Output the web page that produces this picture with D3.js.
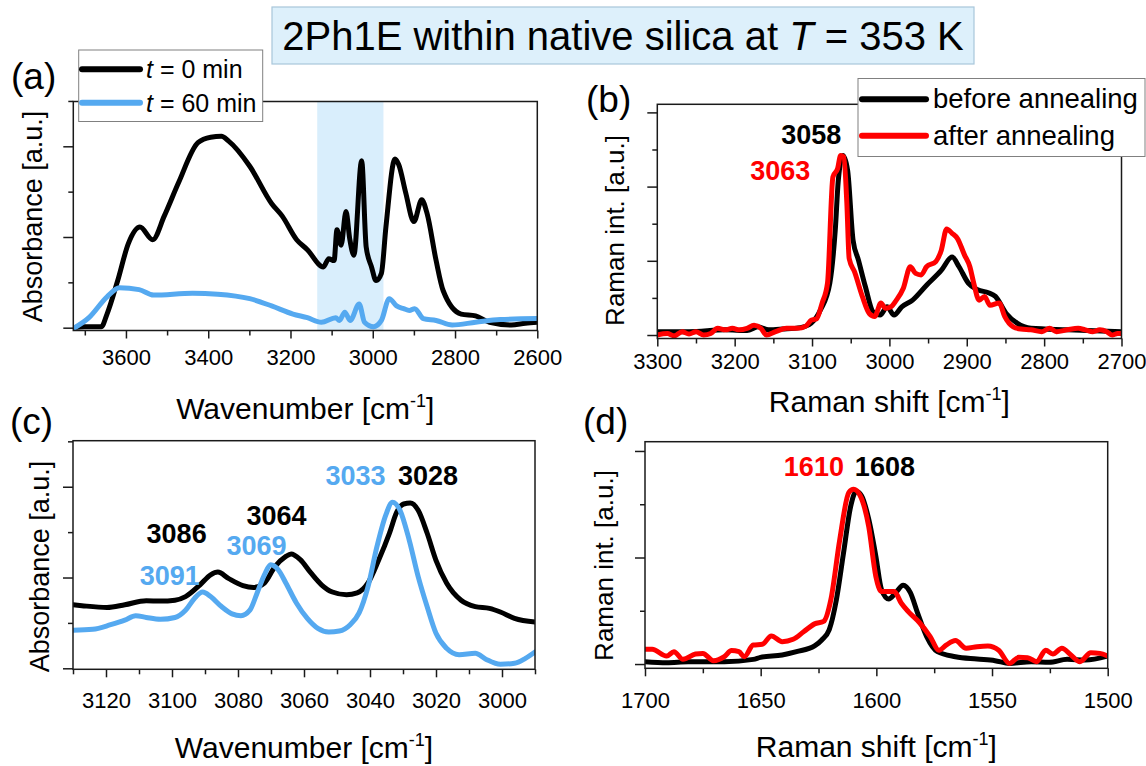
<!DOCTYPE html>
<html lang="en">
<head>
<meta charset="UTF-8">
<title>2Ph1E within native silica</title>
<script src="https://d3js.org/d3.v7.min.js"></script>
<style>
    body { margin: 0; background: #fff; }
    svg text { font-family: "Liberation Sans", Arial, sans-serif; fill: #000; }
    .frame { fill: none; stroke: #1a1a1a; stroke-width: 1.5px; }
    .axis path { display: none; }
    .axis line { stroke: #1a1a1a; stroke-width: 1.5px; }
    .axis text { font-size: 22px; font-family: "Liberation Sans", Arial, sans-serif; }
    .curve { fill: none; stroke-width: 5px; stroke-linejoin: round; stroke-linecap: round; }
    .peak { font-size: 27px; font-weight: bold; }
    .legend-box { fill: #fff; stroke: #808080; stroke-width: 1px; }
</style>
</head>
<body>
<svg width="1146" height="766"></svg>
<script>
// (a) FTIR, t = 0 min / t = 60 min
var aT0X = [3728, 3700, 3660, 3646, 3620, 3594, 3566, 3535, 3507, 3472, 3425, 3394, 3368, 3351, 3299, 3246, 3220, 3185, 3159, 3120, 3107, 3094, 3087, 3077, 3065, 3056, 3046, 3027, 3016, 3003, 2992, 2979, 2968, 2946, 2937, 2920, 2900, 2881, 2868, 2846, 2829, 2785, 2750, 2716, 2663, 2629, 2600];
var aT0Y = [0.0, 0.01, 0.01, 0.15, 0.52, 0.93, 1.11, 0.97, 1.23, 1.6, 2.04, 2.1, 2.11, 2.06, 1.78, 1.37, 1.23, 0.97, 0.86, 0.67, 0.76, 0.74, 1.08, 0.91, 1.28, 0.98, 0.8, 1.84, 0.89, 0.67, 0.52, 0.6, 1.11, 1.86, 1.8, 1.49, 1.17, 1.41, 1.26, 0.74, 0.41, 0.15, 0.13, 0.06, 0.03, 0.05, 0.06];
var aT60X = [3728, 3690, 3646, 3616, 3568, 3533, 3438, 3377, 3299, 3246, 3194, 3159, 3125, 3090, 3081, 3068, 3055, 3033, 3020, 2998, 2979, 2960, 2942, 2925, 2911, 2898, 2877, 2846, 2807, 2750, 2690, 2600];
var aT60Y = [-0.01, 0.11, 0.34, 0.44, 0.42, 0.36, 0.38, 0.37, 0.32, 0.24, 0.15, 0.11, 0.06, 0.11, 0.08, 0.17, 0.08, 0.26, 0.06, 0.01, 0.08, 0.32, 0.24, 0.21, 0.19, 0.21, 0.1, 0.08, 0.03, 0.06, 0.09, 0.1];
var aShade = [3135, 2974];

// (b) Raman, before / after annealing
var bBeforeX = [3300, 3259, 3212, 3184, 3170, 3156, 3138, 3115, 3101, 3089, 3077, 3070, 3066, 3060, 3054, 3047, 3040, 3031, 3021, 3012, 3003, 2994, 2984, 2970, 2952, 2933, 2919, 2910, 2898, 2886, 2872, 2863, 2849, 2835, 2817, 2770, 2700];
var bBeforeY = [0.045, 0.045, 0.07, 0.06, 0.11, 0.07, 0.08, 0.1, 0.16, 0.34, 0.7, 1.41, 2.09, 2.42, 2.22, 1.28, 1.01, 0.65, 0.31, 0.27, 0.38, 0.27, 0.38, 0.47, 0.67, 0.87, 1.05, 0.92, 0.7, 0.61, 0.57, 0.52, 0.29, 0.16, 0.09, 0.07, 0.045];
var bAfterX = [3300, 3287, 3278, 3268, 3259, 3250, 3240, 3231, 3222, 3212, 3203, 3194, 3184, 3175, 3166, 3159, 3147, 3133, 3119, 3108, 3101, 3094, 3087, 3080, 3073, 3067, 3063, 3059, 3055, 3052, 3045, 3035, 3026, 3019, 3011, 3005, 2998, 2991, 2982, 2973, 2966, 2959, 2952, 2940, 2933, 2926, 2919, 2912, 2903, 2896, 2891, 2884, 2877, 2870, 2858, 2851, 2840, 2830, 2817, 2803, 2793, 2784, 2770, 2756, 2747, 2737, 2728, 2719, 2712, 2705, 2700];
var bAfterY = [0, 0.02, -0.01, 0.045, 0.013, 0.045, 0, 0.02, 0.09, 0.07, 0.09, 0.07, 0.09, 0.13, 0.09, 0, 0.045, 0.09, 0.09, 0.12, 0.2, 0.22, 0.43, 0.7, 2.13, 2.24, 2.42, 2.4, 1.78, 1.03, 0.85, 0.52, 0.29, 0.25, 0.43, 0.36, 0.38, 0.47, 0.63, 0.92, 0.83, 0.81, 0.92, 0.99, 1.14, 1.43, 1.37, 1.3, 1.08, 0.92, 0.7, 0.47, 0.52, 0.4, 0.43, 0.25, 0.11, 0.08, 0.07, 0.045, 0.09, 0.045, 0.07, 0.09, 0.07, 0.045, 0.07, 0.045, 0, 0.02, 0.02];

// (c) FTIR zoom 3130-2990
var cT0X = [3130, 3127.3, 3119.7, 3114.3, 3107.8, 3103.5, 3099.1, 3095.9, 3091.5, 3088.3, 3086.1, 3082.9, 3078.5, 3075.3, 3072.0, 3068.8, 3065.6, 3063.9, 3061.2, 3057.9, 3054.7, 3051.4, 3047.1, 3043.9, 3040.6, 3037.4, 3034.1, 3031.9, 3029.8, 3027.8, 3025.4, 3022.7, 3020.0, 3016.8, 3012.4, 3008.1, 3003.8, 3000.5, 2996.2, 2990];
var cT0Y = [0.70, 0.69, 0.67, 0.70, 0.745, 0.74, 0.75, 0.79, 0.92, 1.03, 1.06, 0.99, 0.91, 0.89, 0.94, 1.12, 1.23, 1.26, 1.2, 1.05, 0.92, 0.84, 0.81, 0.83, 0.94, 1.19, 1.49, 1.72, 1.81, 1.82, 1.74, 1.49, 1.19, 0.94, 0.75, 0.68, 0.66, 0.62, 0.55, 0.51];
var cT60X = [3130, 3124.0, 3118.6, 3114.3, 3111.0, 3107.8, 3103.5, 3099.1, 3095.9, 3093.2, 3090.7, 3088.3, 3085.0, 3081.8, 3079.1, 3076.4, 3074.2, 3072.0, 3070.1, 3067.7, 3065.5, 3062.3, 3059.0, 3055.8, 3052.5, 3049.3, 3046.0, 3043.3, 3040.6, 3037.9, 3035.2, 3033.2, 3030.9, 3028.1, 3025.4, 3022.7, 3020.0, 3016.8, 3013.0, 3008.1, 3004.9, 3000.5, 2996.2, 2992.9, 2990];
var cT60Y = [0.42, 0.43, 0.48, 0.53, 0.58, 0.56, 0.54, 0.56, 0.64, 0.77, 0.84, 0.79, 0.68, 0.60, 0.58, 0.64, 0.83, 1.03, 1.14, 1.08, 0.94, 0.72, 0.55, 0.44, 0.40, 0.41, 0.48, 0.61, 0.90, 1.34, 1.69, 1.83, 1.74, 1.41, 1.01, 0.68, 0.385, 0.22, 0.15, 0.165, 0.10, 0.044, 0.055, 0.11, 0.18];

// (d) Raman 1700-1500
var dBeforeX = [1700, 1690.6, 1681.3, 1665.7, 1653.2, 1650.1, 1640.7, 1634.5, 1626.7, 1623.6, 1620.4, 1617.3, 1614.2, 1611.1, 1608.7, 1606.4, 1603.3, 1600.2, 1597.8, 1594.7, 1591.6, 1588.4, 1585.3, 1582.2, 1578.3, 1573.6, 1565.8, 1556.5, 1548.7, 1542.4, 1533.1, 1525.3, 1517.5, 1509.7, 1500];
var dBeforeY = [0.022, 0.013, 0.022, 0.022, 0.044, 0.063, 0.085, 0.116, 0.17, 0.226, 0.32, 0.60, 1.04, 1.48, 1.62, 1.58, 1.36, 1.01, 0.70, 0.61, 0.67, 0.74, 0.67, 0.48, 0.26, 0.116, 0.069, 0.047, 0.031, 0.006, 0.022, 0.016, 0.044, 0.038, 0.075];
var dAfterX = [1700, 1696.9, 1690.6, 1687.5, 1683.6, 1678.2, 1675.0, 1670.4, 1665.7, 1662.6, 1659.4, 1657.1, 1653.2, 1649.3, 1645.4, 1640.7, 1636.0, 1631.3, 1626.7, 1622.8, 1619.7, 1615.8, 1611.9, 1609.8, 1607.2, 1603.3, 1600.2, 1597.8, 1592.3, 1589.2, 1586.1, 1581.4, 1576.8, 1572.9, 1569.7, 1565.8, 1561.2, 1556.5, 1551.8, 1547.1, 1542.4, 1538.5, 1534.6, 1530.7, 1526.8, 1523.7, 1519.8, 1515.9, 1512.0, 1507.3, 1503.4, 1500];
var dAfterY = [0.138, 0.138, 0.075, 0.116, 0.044, 0.094, 0.10, 0.031, 0.069, 0.126, 0.116, 0.069, 0.179, 0.185, 0.264, 0.21, 0.232, 0.305, 0.377, 0.40, 0.60, 1.17, 1.61, 1.64, 1.59, 1.29, 0.82, 0.68, 0.68, 0.57, 0.49, 0.39, 0.26, 0.13, 0.18, 0.22, 0.148, 0.163, 0.17, 0.13, 0.006, 0.063, 0.06, 0.022, 0.13, 0.094, 0.148, 0.085, 0.022, 0.107, 0.10, 0.075];

// peak labels
var bPeaks = ["3058", "3063"];
var cPeaksT0 = ["3086", "3064", "3028"];
var cPeaksT60 = ["3091", "3069", "3033"];
var dPeaks = ["1610", "1608"];

var BLACK = "#000000", BLUE = "#55a9f0", RED = "#ff0000";

var svg = d3.select("svg");
var defs = svg.append("defs");

function panel(p) {
    var x = d3.scaleLinear().domain(p.xDomain).range([p.left, p.right]);
    var y = d3.scaleLinear().domain(p.yDomain).range([p.bottom, p.top]);
    var g = svg.append("g");

    defs.append("clipPath").attr("id", "clip-" + p.id)
        .append("rect")
        .attr("x", p.left).attr("y", p.top)
        .attr("width", p.right - p.left).attr("height", p.bottom - p.top);

    if (p.shade) {
        g.append("rect")
            .attr("x", x(p.shade[0])).attr("y", p.top)
            .attr("width", x(p.shade[1]) - x(p.shade[0]))
            .attr("height", p.bottom - p.top)
            .style("fill", "#d9eefc");
    }

    g.append("g").attr("class", "axis")
        .attr("transform", "translate(0," + p.bottom + ")")
        .call(d3.axisBottom(x).tickValues(p.xMajor).tickSize(8).tickPadding(p.pad).tickFormat(d3.format("d")));
    g.append("g").attr("class", "axis")
        .attr("transform", "translate(0," + p.bottom + ")")
        .call(d3.axisBottom(x).tickValues(p.xMinor).tickSize(5).tickFormat(""));
    g.append("g").attr("class", "axis")
        .attr("transform", "translate(" + p.left + ",0)")
        .call(d3.axisLeft(y).tickValues(p.yMajor).tickSize(10).tickFormat(""));
    g.append("g").attr("class", "axis")
        .attr("transform", "translate(" + p.left + ",0)")
        .call(d3.axisLeft(y).tickValues(p.yMinor).tickSize(5).tickFormat(""));

    var line = d3.line().x(d => x(d[0])).y(d => y(d[1])).curve(d3.curveMonotoneX);
    p.series.forEach(function (s) {
        g.append("path")
            .datum(d3.zip(s.x, s.y))
            .attr("class", "curve")
            .attr("clip-path", "url(#clip-" + p.id + ")")
            .style("stroke", s.color)
            .attr("d", line);
    });

    g.append("rect").attr("class", "frame")
        .attr("x", p.left).attr("y", p.top)
        .attr("width", p.right - p.left).attr("height", p.bottom - p.top);

    // x title with superscript
    var xt = g.append("text")
        .attr("x", (p.left + p.right) / 2).attr("y", p.xTitleY)
        .attr("text-anchor", "middle")
        .style("font-size", "30px");
    xt.append("tspan").text(p.xTitle + " [cm");
    xt.append("tspan").attr("dy", -12).style("font-size", "18px").text("-1");
    xt.append("tspan").attr("dy", 12).text("]");

    g.append("text")
        .attr("transform", "translate(" + p.yTitlePos[0] + "," + p.yTitlePos[1] + ") rotate(-90)")
        .attr("text-anchor", "middle")
        .style("font-size", p.yTitleSize + "px")
        .text(p.yTitle);

    g.append("text")
        .attr("x", p.letterPos[0]).attr("y", p.letterPos[1])
        .style("font-size", "37px")
        .text(p.letter);

    (p.notes || []).forEach(function (n) {
        g.append("text").attr("class", "peak")
            .attr("x", x(n.at[0])).attr("y", y(n.at[1]))
            .attr("text-anchor", "middle")
            .style("fill", n.color)
            .text(n.text);
    });

    return {x: x, y: y, g: g};
}

function legend(box, rows) {
    var g = svg.append("g");
    g.append("rect").attr("class", "legend-box")
        .attr("x", box.x).attr("y", box.y).attr("width", box.w).attr("height", box.h);
    rows.forEach(function (r, i) {
        var ly = box.rowY[i];
        g.append("line")
            .attr("x1", box.lineX[0]).attr("x2", box.lineX[1])
            .attr("y1", ly).attr("y2", ly)
            .style("stroke", r.color).style("stroke-width", 6).style("stroke-linecap", "round");
        var t = g.append("text")
            .attr("x", box.textX).attr("y", ly + box.baseOff)
            .style("font-size", box.size + "px");
        if (r.italic) {
            t.append("tspan").style("font-style", "italic").text(r.italic);
        }
        t.append("tspan").text(r.label);
    });
}

// title
var title = svg.append("g");
title.append("rect")
    .attr("x", 272).attr("y", 7).attr("width", 702).attr("height", 57)
    .style("fill", "#ddf0fb").style("stroke", "#a8c6da").style("stroke-width", 1.2);
var tt = title.append("text")
    .attr("x", 623).attr("y", 50).attr("text-anchor", "middle")
    .style("font-size", "40px");
tt.append("tspan").text("2Ph1E within native silica at ");
tt.append("tspan").style("font-style", "italic").text("T");
tt.append("tspan").text(" = 353 K");

panel({
    id: "a", letter: "(a)", letterPos: [11, 89],
    left: 73.3, right: 537.3, top: 101.5, bottom: 330.5,
    xDomain: [3728, 2600], yDomain: [-0.031, 2.494],
    xMajor: d3.range(3600, 2599, -200), xMinor: d3.range(3700, 2650, -200),
    yMajor: [0, 1, 2], yMinor: [0.5, 1.5, 2.5], pad: 11,
    shade: aShade,
    xTitle: "Wavenumber", xTitleY: 419,
    yTitle: "Absorbance [a.u.]", yTitlePos: [42, 216.5], yTitleSize: 27,
    series: [{x: aT0X, y: aT0Y, color: BLACK}, {x: aT60X, y: aT60Y, color: BLUE}]
});

panel({
    id: "b", letter: "(b)", letterPos: [586, 112],
    left: 657.3, right: 1121.5, top: 104.3, bottom: 338.5,
    xDomain: [3300, 2700], yDomain: [-0.047, 3.109],
    xMajor: d3.range(3300, 2699, -100), xMinor: d3.range(3250, 2700, -100),
    yMajor: [0, 1, 2, 3], yMinor: [0.5, 1.5, 2.5], pad: 7,
    xTitle: "Raman shift", xTitleY: 412,
    yTitle: "Raman int. [a.u.]", yTitlePos: [623.5, 230.5], yTitleSize: 26,
    series: [{x: bBeforeX, y: bBeforeY, color: BLACK}, {x: bAfterX, y: bAfterY, color: RED}],
    notes: [
        {text: bPeaks[0], at: [3101, 2.58], color: BLACK},
        {text: bPeaks[1], at: [3141, 2.09], color: RED}
    ]
});

panel({
    id: "c", letter: "(c)", letterPos: [10, 434],
    left: 73, right: 535, top: 440.7, bottom: 669.3,
    xDomain: [3130, 2990], yDomain: [-0.011, 2.507],
    xMajor: d3.range(3120, 2999, -20), xMinor: d3.range(3130, 2989, -20),
    yMajor: [0, 1, 2], yMinor: [0.5, 1.5, 2.5], pad: 15,
    xTitle: "Wavenumber", xTitleY: 758,
    yTitle: "Absorbance [a.u.]", yTitlePos: [49, 566.5], yTitleSize: 27,
    series: [{x: cT0X, y: cT0Y, color: BLACK}, {x: cT60X, y: cT60Y, color: BLUE}],
    notes: [
        {text: cPeaksT0[0], at: [3098.6, 1.38], color: BLACK},
        {text: cPeaksT0[1], at: [3068.3, 1.58], color: BLACK},
        {text: cPeaksT0[2], at: [3022.4, 2.02], color: BLACK},
        {text: cPeaksT60[0], at: [3100.7, 0.92], color: BLUE},
        {text: cPeaksT60[1], at: [3074.4, 1.25], color: BLUE},
        {text: cPeaksT60[2], at: [3044.4, 2.02], color: BLUE}
    ]
});

panel({
    id: "d", letter: "(d)", letterPos: [583, 434],
    left: 645, right: 1107.7, top: 441.7, bottom: 668.3,
    xDomain: [1700, 1500], yDomain: [-0.04, 2.087],
    xMajor: d3.range(1700, 1499, -50), xMinor: d3.range(1675, 1500, -50),
    yMajor: [0, 1, 2], yMinor: [0.5, 1.5], pad: 16,
    xTitle: "Raman shift", xTitleY: 757,
    yTitle: "Raman int. [a.u.]", yTitlePos: [613, 565.5], yTitleSize: 26,
    series: [{x: dBeforeX, y: dBeforeY, color: BLACK}, {x: dAfterX, y: dAfterY, color: RED}],
    notes: [
        {text: dPeaks[0], at: [1627, 1.765], color: RED},
        {text: dPeaks[1], at: [1596.3, 1.765], color: BLACK}
    ]
});

legend({x: 78.7, y: 50, w: 184, h: 71.5, lineX: [82, 140], rowY: [69.3, 102.7], textX: 146, baseOff: 9, size: 25},
    [{italic: "t", label: " = 0 min", color: BLACK}, {italic: "t", label: " = 60 min", color: BLUE}]);

legend({x: 858, y: 78.5, w: 287, h: 78, lineX: [862, 926], rowY: [99.3, 135.7], textX: 933, baseOff: 9, size: 27.5},
    [{label: "before annealing", color: BLACK}, {label: "after annealing", color: RED}]);
</script>
</body>
</html>
